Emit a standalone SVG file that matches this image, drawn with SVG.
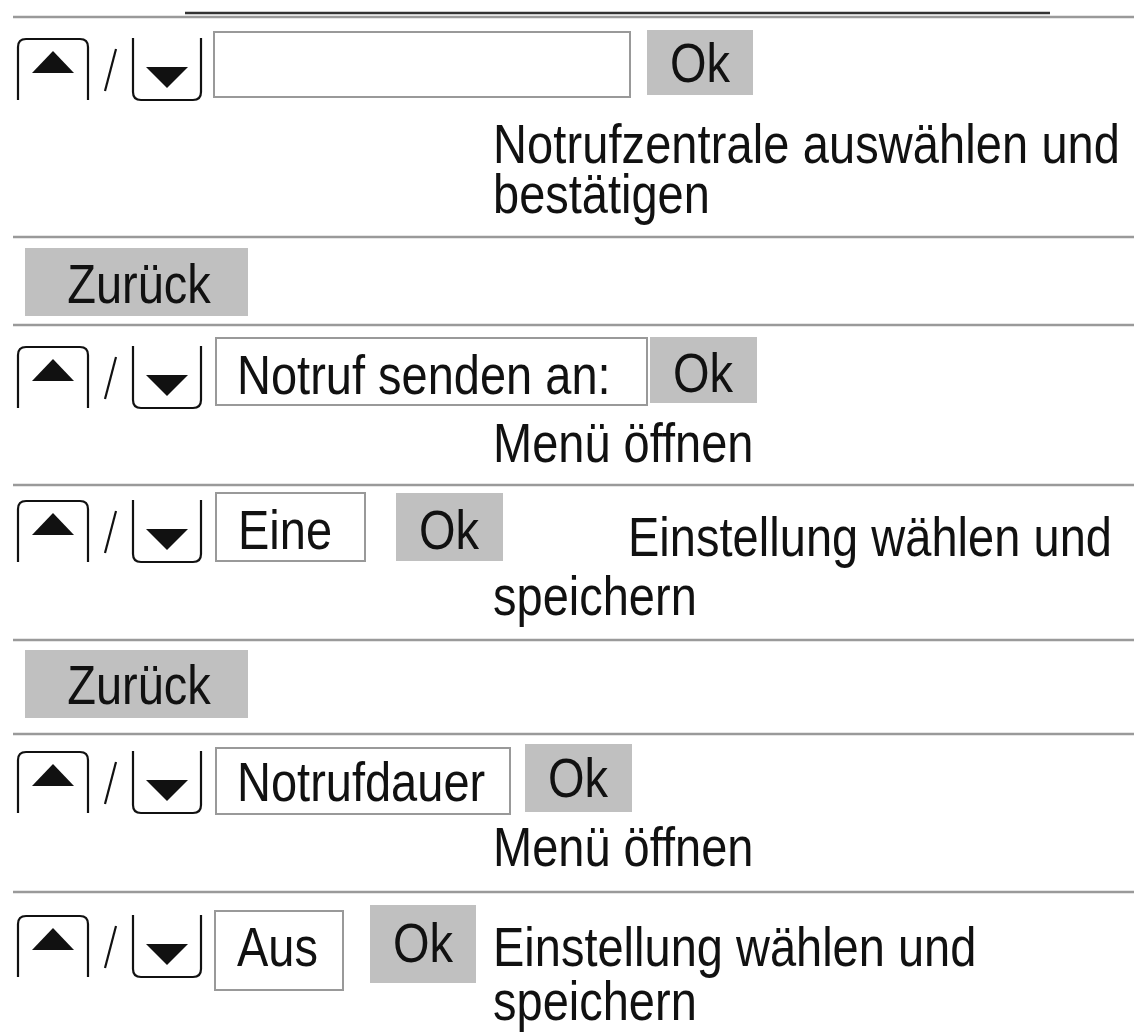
<svg xmlns="http://www.w3.org/2000/svg" xmlns:xlink="http://www.w3.org/1999/xlink" width="1134" height="1032" viewBox="0 0 1134 1032">
<style>
text{font-family:"Liberation Sans",Arial,sans-serif;font-size:47px;fill:#111}
.c{text-anchor:middle}
.sep{stroke:#9a9a9a;stroke-width:2.5}
.box{fill:#fff;stroke:#999;stroke-width:2}
.btn{fill:#c0c0c0}
.key{fill:none;stroke:#111;stroke-width:2.2}
.tri{fill:#111}
</style>
<defs>
<g id="updown">
<path class="key" d="M18,61 V8 Q18,0 26,0 H80 Q88,0 88,8 V61"/>
<path class="tri" d="M32,34 L53,12 L74,34 Z"/>
<path d="M116,10 L105,52" stroke="#111" stroke-width="2.2"/>
<path class="key" d="M133,-1 V53 Q133,61 141,61 H193 Q201,61 201,53 V-1"/>
<path class="tri" d="M146,28 H188 L167,49 Z"/>
</g>
</defs>
<g id="separators">
<line x1="185" y1="13" x2="1050" y2="13" stroke="#333" stroke-width="2.5"/>
<line class="sep" x1="13" y1="17" x2="1134" y2="17"/>
<line class="sep" x1="13" y1="237" x2="1134" y2="237"/>
<line class="sep" x1="13" y1="325" x2="1134" y2="325"/>
<line class="sep" x1="13" y1="485" x2="1134" y2="485"/>
<line class="sep" x1="13" y1="640" x2="1134" y2="640"/>
<line class="sep" x1="13" y1="734" x2="1134" y2="734"/>
<line class="sep" x1="13" y1="892" x2="1134" y2="892"/>
</g>
<g id="row1">
<use xlink:href="#updown" transform="translate(0,39)"/>
<rect class="box" x="214" y="32" width="416" height="65"/>
<rect class="btn" x="647" y="30" width="106" height="65"/>
<text class="c" transform="translate(700,82) scale(1,1.2)">Ok</text>
<text transform="translate(493,163) scale(1,1.2)" textLength="627" lengthAdjust="spacing">Notrufzentrale auswählen und</text>
<text transform="translate(493,213) scale(1,1.2)">bestätigen</text>
</g>
<g id="row2">
<rect class="btn" x="25" y="248" width="223" height="68"/>
<text class="c" transform="translate(139,303) scale(1,1.2)">Zurück</text>
</g>
<g id="row3">
<use xlink:href="#updown" transform="translate(0,347)"/>
<rect class="box" x="216" y="338" width="431" height="67"/>
<text transform="translate(237,394) scale(1,1.2)">Notruf senden an:</text>
<rect class="btn" x="650" y="337" width="107" height="66"/>
<text class="c" transform="translate(703,392) scale(1,1.2)">Ok</text>
<text transform="translate(493,462) scale(1,1.2)">Menü öffnen</text>
</g>
<g id="row4">
<use xlink:href="#updown" transform="translate(0,501)"/>
<rect class="box" x="216" y="493" width="149" height="68"/>
<text transform="translate(238,549) scale(1,1.2)">Eine</text>
<rect class="btn" x="396" y="493" width="107" height="68"/>
<text class="c" transform="translate(449,549) scale(1,1.2)">Ok</text>
<text transform="translate(628,556) scale(1,1.2)" textLength="484" lengthAdjust="spacing">Einstellung wählen und</text>
<text transform="translate(493,615) scale(1,1.2)">speichern</text>
</g>
<g id="row5">
<rect class="btn" x="25" y="650" width="223" height="68"/>
<text class="c" transform="translate(139,704) scale(1,1.2)">Zurück</text>
</g>
<g id="row6">
<use xlink:href="#updown" transform="translate(0,752)"/>
<rect class="box" x="216" y="748" width="294" height="66"/>
<text transform="translate(237,801) scale(1,1.2)">Notrufdauer</text>
<rect class="btn" x="525" y="744" width="107" height="68"/>
<text class="c" transform="translate(578,797) scale(1,1.2)">Ok</text>
<text transform="translate(493,866) scale(1,1.2)">Menü öffnen</text>
</g>
<g id="row7">
<use xlink:href="#updown" transform="translate(0,916)"/>
<rect class="box" x="215" y="911" width="128" height="79"/>
<text transform="translate(237,966) scale(1,1.2)">Aus</text>
<rect class="btn" x="370" y="905" width="106" height="78"/>
<text class="c" transform="translate(423,962) scale(1,1.2)">Ok</text>
<text transform="translate(493,966) scale(1,1.2)">Einstellung wählen und</text>
<text transform="translate(493,1020) scale(1,1.2)">speichern</text>
</g>
</svg>
